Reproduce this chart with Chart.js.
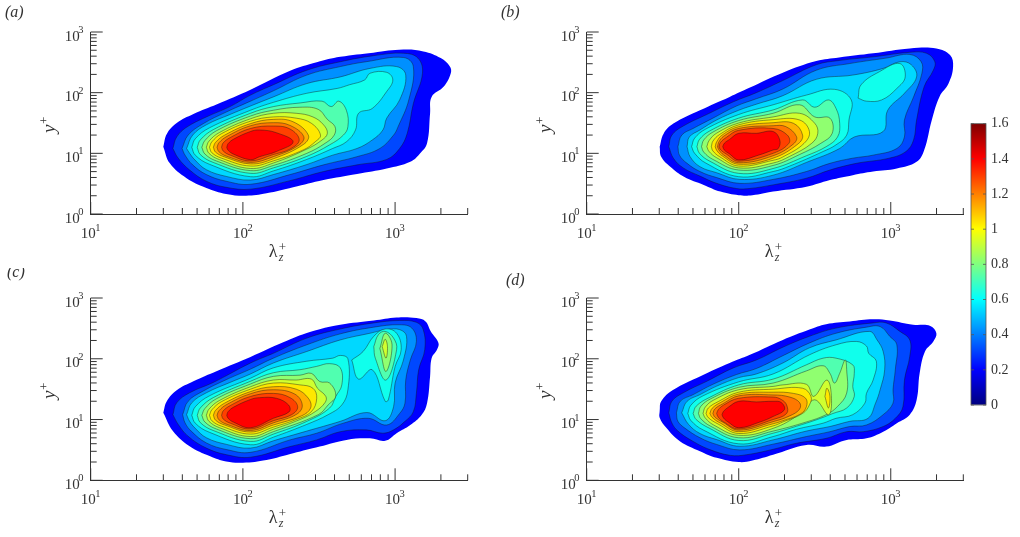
<!DOCTYPE html>
<html>
<head>
<meta charset="utf-8">
<title>Premultiplied spectra</title>
<script src="https://cdn.jsdelivr.net/npm/chart.js@4"></script>
<style>
  html, body { margin: 0; padding: 0; background: #fff; }
  canvas { position: absolute; }
</style>
</head>
<body>
<canvas id="panelA" style="left:0;top:0" width="500" height="268"></canvas>
<canvas id="panelB" style="left:500px;top:0" width="465" height="268"></canvas>
<canvas id="panelC" style="left:0;top:268px" width="500" height="268"></canvas>
<canvas id="panelD" style="left:500px;top:268px" width="465" height="268"></canvas>
<canvas id="colorbar" style="left:965px;top:110px" width="55" height="310"></canvas>
<script>
// axis ticks
const xMajorTicks = [10, 100, 1000];
const xMinorTicks = [20, 30, 40, 50, 60, 70, 80, 90, 200, 300, 400, 500, 600, 700, 800, 900, 2000, 3000];
const yMajorTicks = [1, 10, 100, 1000];
const yMinorTicks = [2, 3, 4, 5, 6, 7, 8, 9, 20, 30, 40, 50, 60, 70, 80, 90, 200, 300, 400, 500, 600, 700, 800, 900];
const colorbarTicks = [0, 0.2, 0.4, 0.6, 0.8, 1, 1.2, 1.4, 1.6];
const colorbarRange = [0, 1.6];

// contour levels and their fill colours
const levels = [0.2, 0.3, 0.4, 0.5, 0.6, 0.7, 0.8, 0.9, 1.0, 1.1, 1.2, 1.3, 1.4];
const levelColors = ['#0000ff', '#0048ff', '#0090ff', '#00d8ff', '#10ffec', '#50ffb0', '#90ff70', '#d0ff30', '#ffe800', '#ffb000', '#ff7800', '#ff4000', '#ff0000'];

// contour outlines, points are [log10 lambda, log10 y]
// panel a
const a02 = [[1.477,1.11],[1.50,1.32],[1.565,1.50],[1.675,1.65],[1.83,1.81],[2.05,2.05],[2.31,2.36],[2.485,2.50],[2.64,2.59],[2.857,2.66],[3.055,2.71],[3.186,2.68],[3.30,2.57],[3.36,2.43],[3.366,2.32],[3.32,2.10],[3.24,1.93],[3.23,1.66],[3.21,1.165],[3.165,1.0],[3.10,0.86],[2.945,0.75],[2.75,0.66],[2.53,0.56],[2.33,0.44],[2.155,0.34],[2.02,0.30],[1.89,0.33],[1.76,0.43],[1.63,0.59],[1.52,0.835]];
const a03 = [[1.54,1.08],[1.565,1.27],[1.63,1.43],[1.76,1.60],[1.915,1.77],[2.05,1.96],[2.20,2.13],[2.42,2.37],[2.64,2.51],[2.86,2.61],[3.055,2.65],[3.15,2.57],[3.18,2.32],[3.12,1.82],[3.08,1.33],[3.03,1.08],[2.945,0.90],[2.75,0.81],[2.53,0.70],[2.31,0.55],[2.05,0.41],[1.89,0.44],[1.76,0.54],[1.65,0.725],[1.575,0.92]];
const a04 = [[1.60,1.08],[1.64,1.30],[1.74,1.49],[1.89,1.68],[2.05,1.86],[2.20,2.03],[2.42,2.29],[2.64,2.43],[2.81,2.51],[3.055,2.58],[3.12,2.43],[3.09,1.88],[3.02,1.44],[2.99,1.30],[2.90,1.08],[2.75,0.945],[2.53,0.81],[2.31,0.65],[2.05,0.49],[1.89,0.54],[1.76,0.65],[1.67,0.81],[1.62,0.97]];
const a05 = [[1.63,1.08],[1.67,1.30],[1.76,1.47],[1.915,1.64],[2.05,1.78],[2.20,1.93],[2.42,2.15],[2.64,2.26],[2.835,2.40],[3.01,2.43],[3.07,2.29],[3.03,1.88],[2.945,1.58],[2.92,1.385],[2.85,1.22],[2.75,1.08],[2.59,0.97],[2.42,0.815],[2.20,0.65],[2.05,0.56],[1.89,0.62],[1.76,0.73],[1.685,0.89],[1.65,1.0]];
const a06 = [[1.664,1.10],[1.687,1.24],[1.78,1.42],[2.05,1.71],[2.20,1.84],[2.42,1.99],[2.62,2.07],[2.70,2.13],[2.80,2.21],[2.835,2.32],[2.945,2.335],[2.985,2.21],[2.945,2.02],[2.85,1.74],[2.76,1.66],[2.74,1.385],[2.68,1.19],[2.59,1.08],[2.42,0.90],[2.20,0.71],[2.05,0.615],[1.78,0.82],[1.687,0.97]];
const a07 = [[1.70,1.10],[1.72,1.22],[1.805,1.39],[2.05,1.66],[2.20,1.77],[2.375,1.83],[2.52,1.86],[2.58,1.77],[2.63,1.86],[2.68,1.71],[2.69,1.44],[2.66,1.30],[2.57,1.14],[2.42,0.95],[2.20,0.76],[2.05,0.67],[1.805,0.85],[1.72,0.98]];
const a08 = [[1.73,1.10],[1.75,1.21],[1.825,1.37],[2.05,1.615],[2.20,1.71],[2.375,1.76],[2.495,1.725],[2.555,1.56],[2.605,1.44],[2.60,1.30],[2.54,1.165],[2.42,1.0],[2.20,0.80],[2.05,0.715],[1.825,0.875],[1.75,0.99]];
const a09 = [[1.76,1.10],[1.777,1.20],[1.847,1.345],[2.05,1.57],[2.20,1.66],[2.35,1.66],[2.46,1.60],[2.53,1.47],[2.555,1.33],[2.52,1.22],[2.42,1.07],[2.20,0.84],[2.05,0.75],[1.847,0.895],[1.777,1.0]];
const a10 = [[1.78,1.10],[1.796,1.19],[1.86,1.325],[2.05,1.53],[2.20,1.60],[2.35,1.58],[2.45,1.495],[2.51,1.30],[2.475,1.19],[2.40,1.06],[2.20,0.875],[2.05,0.79],[1.86,0.92],[1.796,1.01]];
const a11 = [[1.806,1.10],[1.82,1.18],[1.88,1.30],[2.05,1.49],[2.20,1.56],[2.33,1.52],[2.43,1.30],[2.40,1.15],[2.20,0.91],[2.05,0.825],[1.88,0.94],[1.82,1.02]];
const a12 = [[1.83,1.10],[1.843,1.175],[1.896,1.28],[2.05,1.455],[2.20,1.505],[2.31,1.46],[2.40,1.275],[2.365,1.13],[2.20,0.945],[2.05,0.85],[1.896,0.95],[1.843,1.025]];
const a13 = [[1.86,1.10],[1.87,1.17],[1.917,1.26],[2.05,1.41],[2.20,1.45],[2.31,1.40],[2.37,1.22],[2.31,1.07],[2.20,0.98],[2.05,0.875],[1.917,0.97],[1.87,1.04]];
const a14 = [[1.894,1.10],[1.903,1.16],[1.94,1.235],[2.05,1.36],[2.11,1.385],[2.22,1.34],[2.33,1.19],[2.22,1.03],[2.11,0.945],[2.05,0.895],[1.94,0.985],[1.903,1.05]];

// panel b
const b02 = [[1.48,1.11],[1.505,1.32],[1.57,1.49],[1.745,1.71],[1.94,1.93],[2.07,2.08],[2.29,2.33],[2.51,2.52],[2.66,2.58],[2.884,2.65],[3.125,2.73],[3.30,2.73],[3.39,2.62],[3.41,2.43],[3.38,2.15],[3.32,1.93],[3.27,1.55],[3.22,1.055],[3.17,0.86],[3.04,0.75],[2.884,0.70],[2.75,0.64],[2.60,0.56],[2.445,0.45],[2.226,0.37],[2.09,0.31],[2.0,0.31],[1.88,0.37],[1.77,0.48],[1.64,0.615],[1.55,0.78],[1.49,0.945]];
const b03 = [[1.54,1.11],[1.56,1.30],[1.635,1.45],[1.79,1.64],[1.965,1.85],[2.116,2.0],[2.29,2.20],[2.51,2.46],[2.66,2.53],[2.884,2.59],[3.125,2.665],[3.235,2.65],[3.29,2.51],[3.28,2.37],[3.22,2.10],[3.17,1.55],[3.15,1.22],[3.10,1.03],[2.99,0.92],[2.774,0.835],[2.60,0.725],[2.445,0.59],[2.226,0.48],[2.07,0.42],[1.985,0.42],[1.855,0.505],[1.745,0.625],[1.635,0.76],[1.57,0.92]];
const b04 = [[1.60,1.11],[1.625,1.30],[1.70,1.41],[1.83,1.58],[1.985,1.78],[2.116,1.90],[2.29,2.06],[2.51,2.37],[2.73,2.48],[2.97,2.57],[3.125,2.63],[3.20,2.51],[3.205,2.32],[3.15,1.93],[3.09,1.55],[3.09,1.27],[3.04,1.08],[2.884,0.97],[2.75,0.92],[2.60,0.835],[2.445,0.70],[2.226,0.57],[2.007,0.505],[1.855,0.60],[1.745,0.70],[1.66,0.835],[1.61,0.97]];
const b05 = [[1.66,1.11],[1.675,1.27],[1.745,1.385],[1.855,1.55],[2.0,1.71],[2.116,1.81],[2.29,1.95],[2.51,2.22],[2.75,2.29],[2.95,2.40],[3.06,2.51],[3.135,2.46],[3.17,2.26],[3.09,1.99],[2.98,1.71],[2.95,1.36],[2.76,1.27],[2.664,1.08],[2.445,0.85],[2.226,0.64],[2.007,0.57],[1.855,0.68],[1.745,0.78],[1.68,0.945]];
const b06 = [[1.69,1.11],[1.71,1.25],[1.783,1.40],[2.0,1.64],[2.226,1.80],[2.445,1.96],[2.63,2.055],[2.74,1.88],[2.725,1.55],[2.71,1.30],[2.64,1.14],[2.555,1.03],[2.335,0.79],[2.226,0.70],[2.0,0.615],[1.783,0.84],[1.71,1.0]];
const b06Lobe = [[2.785,1.91],[2.805,2.13],[2.925,2.345],[3.06,2.48],[3.095,2.26],[3.04,2.07],[2.94,1.88],[2.84,1.86]];
const b07 = [[1.725,1.11],[1.742,1.23],[1.81,1.37],[2.0,1.58],[2.226,1.715],[2.42,1.88],[2.50,1.76],[2.59,1.88],[2.64,1.74],[2.664,1.495],[2.65,1.27],[2.575,1.11],[2.445,0.96],[2.226,0.75],[2.0,0.67],[1.81,0.87],[1.742,1.0]];
const b08 = [[1.755,1.11],[1.77,1.22],[1.83,1.35],[2.0,1.54],[2.226,1.66],[2.40,1.80],[2.50,1.60],[2.60,1.58],[2.615,1.33],[2.54,1.165],[2.40,0.98],[2.226,0.80],[2.0,0.725],[1.83,0.90],[1.77,1.02]];
const b09 = [[1.79,1.11],[1.805,1.21],[1.853,1.33],[2.0,1.50],[2.226,1.60],[2.40,1.66],[2.50,1.495],[2.52,1.33],[2.48,1.165],[2.335,0.95],[2.226,0.84],[2.0,0.76],[1.853,0.93],[1.805,1.03]];
const b10 = [[1.82,1.11],[1.83,1.20],[1.874,1.31],[2.0,1.47],[2.226,1.555],[2.40,1.55],[2.465,1.36],[2.43,1.165],[2.29,0.94],[2.226,0.885],[2.0,0.79],[1.874,0.945],[1.83,1.04]];
const b11 = [[1.845,1.11],[1.855,1.19],[1.89,1.30],[2.0,1.44],[2.226,1.505],[2.36,1.495],[2.42,1.30],[2.39,1.155],[2.226,0.92],[2.0,0.82],[1.89,0.96],[1.855,1.05]];
const b12 = [[1.86,1.11],[1.87,1.19],[1.90,1.28],[2.0,1.41],[2.226,1.455],[2.31,1.44],[2.38,1.275],[2.36,1.155],[2.226,0.96],[2.0,0.845],[1.90,0.975],[1.87,1.055]];
const b13 = [[1.87,1.11],[1.88,1.18],[1.92,1.265],[2.0,1.38],[2.226,1.41],[2.32,1.30],[2.33,1.165],[2.226,1.0],[2.0,0.87],[1.92,0.985],[1.88,1.06]];
const b14 = [[1.895,1.11],[1.905,1.165],[1.94,1.23],[2.0,1.33],[2.116,1.33],[2.226,1.36],[2.27,1.22],[2.26,1.08],[2.226,1.055],[2.13,0.97],[2.0,0.89],[1.94,0.99],[1.905,1.055]];

// panel c
const c02 = [[1.477,1.11],[1.50,1.30],[1.565,1.48],[1.675,1.63],[1.83,1.80],[2.05,2.03],[2.265,2.27],[2.44,2.44],[2.64,2.56],[2.86,2.63],[3.01,2.68],[3.14,2.67],[3.20,2.615],[3.235,2.45],[3.285,2.26],[3.275,2.15],[3.24,2.01],[3.23,1.71],[3.21,1.27],[3.175,1.08],[3.10,0.91],[3.01,0.775],[2.935,0.65],[2.835,0.69],[2.68,0.665],[2.505,0.555],[2.33,0.445],[2.155,0.335],[2.0,0.29],[1.89,0.31],[1.785,0.395],[1.65,0.56],[1.54,0.81]];
const c03 = [[1.54,1.08],[1.565,1.275],[1.65,1.44],[1.805,1.61],[2.05,1.93],[2.20,2.09],[2.42,2.34],[2.64,2.49],[2.86,2.59],[3.03,2.63],[3.14,2.60],[3.185,2.48],[3.195,2.15],[3.155,1.82],[3.14,1.43],[3.12,1.13],[3.065,0.97],[2.99,0.83],[2.92,0.775],[2.81,0.83],[2.64,0.80],[2.485,0.665],[2.31,0.555],[2.05,0.38],[1.894,0.42],[1.76,0.53],[1.64,0.725],[1.575,0.92]];
const c04 = [[1.604,1.08],[1.64,1.30],[1.74,1.47],[1.894,1.66],[2.05,1.83],[2.20,2.01],[2.42,2.23],[2.64,2.41],[2.86,2.52],[3.03,2.56],[3.11,2.505],[3.14,2.285],[3.10,1.98],[3.07,1.65],[3.065,1.27],[3.03,1.10],[2.945,0.91],[2.825,1.02],[2.66,0.94],[2.485,0.775],[2.31,0.665],[2.05,0.46],[1.894,0.505],[1.76,0.615],[1.66,0.81],[1.62,0.945]];
const c05 = [[1.63,1.08],[1.664,1.275],[1.76,1.44],[1.915,1.61],[2.05,1.75],[2.20,1.93],[2.42,2.12],[2.64,2.31],[2.835,2.42],[2.945,2.48],[3.03,2.48],[3.075,2.37],[3.055,1.98],[3.0,1.60],[2.99,1.21],[2.935,0.98],[2.815,1.115],[2.64,0.97],[2.42,0.81],[2.20,0.65],[2.05,0.53],[1.894,0.59],[1.76,0.70],[1.685,0.86],[1.65,0.97]];
const c06 = [[1.664,1.07],[1.687,1.21],[1.78,1.39],[2.05,1.68],[2.20,1.85],[2.42,1.96],[2.59,2.01],[2.64,2.055],[2.69,2.0],[2.69,1.49],[2.65,1.24],[2.56,1.08],[2.42,0.92],[2.20,0.71],[2.05,0.585],[1.78,0.79],[1.687,0.94]];
const c06Lobe = [[2.715,1.98],[2.79,2.12],[2.86,2.37],[2.935,2.49],[3.01,2.42],[3.04,2.15],[3.0,1.87],[2.955,1.32],[2.935,1.30],[2.85,1.82],[2.76,1.665]];
const c07 = [[1.70,1.07],[1.72,1.19],[1.805,1.36],[2.05,1.63],[2.20,1.77],[2.375,1.82],[2.485,1.875],[2.57,1.92],[2.64,1.85],[2.65,1.57],[2.61,1.38],[2.57,1.19],[2.42,0.97],[2.20,0.76],[2.05,0.64],[1.805,0.82],[1.72,0.95]];
const c07Lobe = [[2.86,2.20],[2.89,2.395],[2.935,2.45],[2.99,2.34],[3.01,2.15],[2.94,1.65],[2.87,2.01]];
const c08 = [[1.73,1.07],[1.75,1.18],[1.825,1.34],[2.05,1.585],[2.20,1.71],[2.375,1.73],[2.45,1.76],[2.505,1.625],[2.57,1.60],[2.61,1.39],[2.56,1.24],[2.495,1.08],[2.20,0.80],[2.05,0.685],[1.825,0.845],[1.75,0.96]];
const c08Lobe = [[2.90,2.17],[2.935,2.42],[2.98,2.23],[2.94,1.79]];
const c09 = [[1.76,1.07],[1.777,1.17],[1.847,1.315],[2.05,1.54],[2.20,1.65],[2.35,1.65],[2.45,1.665],[2.49,1.515],[2.545,1.38],[2.54,1.28],[2.475,1.13],[2.375,1.0],[2.20,0.84],[2.05,0.72],[1.847,0.865],[1.777,0.97]];
const c09Lobe = [[2.915,2.20],[2.935,2.32],[2.95,2.20],[2.94,2.01]];
const c10 = [[1.78,1.07],[1.796,1.16],[1.86,1.295],[2.05,1.50],[2.20,1.60],[2.375,1.57],[2.46,1.515],[2.485,1.35],[2.45,1.13],[2.35,1.0],[2.20,0.875],[2.05,0.76],[1.86,0.89],[1.796,0.98]];
const c11 = [[1.806,1.07],[1.82,1.15],[1.88,1.27],[2.05,1.46],[2.20,1.54],[2.35,1.50],[2.43,1.35],[2.445,1.19],[2.385,1.06],[2.20,0.91],[2.05,0.795],[1.88,0.91],[1.82,0.99]];
const c12 = [[1.83,1.07],[1.843,1.145],[1.896,1.25],[2.05,1.425],[2.20,1.49],[2.34,1.42],[2.39,1.24],[2.355,1.09],[2.20,0.945],[2.05,0.82],[1.896,0.92],[1.843,0.995]];
const c13 = [[1.86,1.07],[1.87,1.14],[1.917,1.23],[2.05,1.38],[2.20,1.43],[2.31,1.36],[2.36,1.21],[2.32,1.08],[2.20,0.98],[2.05,0.845],[1.917,0.94],[1.87,1.01]];
const c14 = [[1.894,1.07],[1.903,1.13],[1.94,1.205],[2.05,1.33],[2.11,1.36],[2.22,1.35],[2.30,1.24],[2.305,1.13],[2.20,1.02],[2.05,0.865],[1.94,0.955],[1.903,1.02]];

// panel d
const d02 = [[1.48,1.14],[1.49,1.30],[1.57,1.49],[1.745,1.71],[1.94,1.93],[2.07,2.06],[2.29,2.31],[2.465,2.48],[2.575,2.57],[2.73,2.615],[2.884,2.65],[2.993,2.63],[3.147,2.56],[3.26,2.54],[3.30,2.42],[3.28,2.285],[3.225,2.12],[3.19,1.76],[3.17,1.32],[3.125,1.08],[3.04,0.94],[2.95,0.80],[2.84,0.69],[2.71,0.665],[2.575,0.555],[2.445,0.58],[2.226,0.42],[2.09,0.325],[2.0,0.30],[1.855,0.37],[1.745,0.48],[1.615,0.64],[1.525,0.86],[1.48,1.03]];
const d03 = [[1.54,1.11],[1.56,1.30],[1.635,1.44],[1.79,1.63],[1.965,1.85],[2.116,1.98],[2.29,2.19],[2.465,2.37],[2.64,2.505],[2.884,2.59],[2.97,2.59],[3.06,2.45],[3.125,2.31],[3.125,2.04],[3.09,1.65],[3.08,1.21],[3.03,1.02],[2.95,0.885],[2.82,0.80],[2.71,0.80],[2.575,0.69],[2.38,0.61],[2.226,0.51],[2.05,0.42],[1.945,0.41],[1.81,0.505],[1.70,0.64],[1.60,0.81],[1.56,0.945]];
const d04 = [[1.59,1.11],[1.615,1.30],[1.70,1.41],[1.83,1.58],[1.985,1.74],[2.116,1.84],[2.29,2.05],[2.465,2.26],[2.64,2.42],[2.84,2.52],[2.93,2.53],[2.993,2.37],[3.04,2.23],[3.03,1.82],[3.015,1.49],[3.015,1.27],[2.95,1.08],[2.84,0.91],[2.73,0.885],[2.60,0.80],[2.445,0.72],[2.226,0.595],[2.007,0.50],[1.855,0.59],[1.745,0.70],[1.645,0.86],[1.60,0.97]];
const d05 = [[1.625,1.11],[1.66,1.30],[1.745,1.41],[1.855,1.55],[2.0,1.69],[2.116,1.75],[2.29,1.93],[2.465,2.18],[2.64,2.31],[2.86,2.45],[2.91,2.31],[2.95,2.12],[2.96,1.82],[2.93,1.49],[2.90,1.27],[2.85,1.02],[2.73,0.97],[2.60,0.885],[2.445,0.81],[2.226,0.665],[2.007,0.56],[1.855,0.67],[1.745,0.77],[1.67,0.92]];
const d06 = [[1.665,1.10],[1.685,1.235],[1.765,1.39],[2.0,1.62],[2.226,1.75],[2.465,2.065],[2.64,2.23],[2.774,2.285],[2.84,2.21],[2.855,2.09],[2.905,1.96],[2.884,1.65],[2.84,1.43],[2.83,1.27],[2.75,1.08],[2.64,1.02],[2.555,0.94],[2.38,0.84],[2.226,0.72],[2.0,0.60],[1.765,0.83],[1.685,0.985]];
const d07 = [[1.70,1.10],[1.72,1.22],[1.805,1.36],[2.0,1.57],[2.226,1.665],[2.445,1.90],[2.555,2.01],[2.64,2.01],[2.75,1.90],[2.76,1.76],[2.75,1.545],[2.76,1.38],[2.71,1.19],[2.62,1.10],[2.51,0.995],[2.38,0.89],[2.226,0.775],[2.0,0.655],[1.805,0.86],[1.72,1.0]];
const d08 = [[1.735,1.10],[1.75,1.215],[1.815,1.34],[2.0,1.53],[2.226,1.60],[2.445,1.80],[2.555,1.885],[2.60,1.76],[2.63,1.60],[2.664,1.76],[2.70,1.98],[2.71,1.82],[2.71,1.435],[2.65,1.215],[2.575,1.08],[2.445,0.96],[2.226,0.81],[2.0,0.70],[1.815,0.89],[1.75,1.015]];
const d09 = [[1.765,1.10],[1.78,1.205],[1.835,1.32],[2.0,1.49],[2.226,1.545],[2.29,1.57],[2.445,1.58],[2.493,1.38],[2.58,1.65],[2.61,1.35],[2.59,1.08],[2.50,1.325],[2.40,1.09],[2.226,0.855],[2.0,0.74],[1.835,0.91],[1.78,1.025]];
const d10 = [[1.785,1.10],[1.80,1.19],[1.865,1.295],[2.0,1.45],[2.226,1.50],[2.42,1.515],[2.475,1.38],[2.465,1.24],[2.42,1.10],[2.29,0.96],[2.226,0.895],[2.0,0.77],[1.865,0.925],[1.80,1.03]];
const d10Lobe = [[2.567,1.38],[2.58,1.515],[2.60,1.38],[2.59,1.19]];
const d11 = [[1.81,1.10],[1.825,1.185],[1.88,1.28],[2.0,1.42],[2.226,1.45],[2.36,1.43],[2.44,1.35],[2.445,1.21],[2.405,1.09],[2.29,0.98],[2.226,0.93],[2.0,0.80],[1.88,0.94],[1.825,1.035]];
const d12 = [[1.83,1.10],[1.843,1.175],[1.896,1.26],[2.0,1.39],[2.226,1.405],[2.335,1.37],[2.40,1.28],[2.40,1.17],[2.335,1.06],[2.226,0.965],[2.0,0.825],[1.896,0.955],[1.843,1.04]];
const d13 = [[1.855,1.10],[1.865,1.16],[1.90,1.237],[2.0,1.35],[2.226,1.37],[2.28,1.33],[2.315,1.24],[2.315,1.10],[2.226,1.0],[2.0,0.845],[1.90,0.963],[1.865,1.04]];
const d14 = [[1.89,1.08],[1.90,1.135],[1.93,1.20],[2.0,1.30],[2.116,1.29],[2.226,1.30],[2.28,1.28],[2.30,1.16],[2.226,1.05],[2.14,0.96],[2.0,0.865],[1.93,0.96],[1.90,1.025]];

const panelAContours = [[0,a02],[1,a03],[2,a04],[3,a05],[4,a06],[5,a07],[6,a08],[7,a09],[8,a10],[9,a11],[10,a12],[11,a13],[12,a14]];
const panelBContours = [[0,b02],[1,b03],[2,b04],[3,b05],[4,b06],[4,b06Lobe],[5,b07],[6,b08],[7,b09],[8,b10],[9,b11],[10,b12],[11,b13],[12,b14]];
const panelCContours = [[0,c02],[1,c03],[2,c04],[3,c05],[4,c06],[4,c06Lobe],[5,c07],[5,c07Lobe],[6,c08],[6,c08Lobe],[7,c09],[7,c09Lobe],[8,c10],[9,c11],[10,c12],[11,c13],[12,c14]];
const panelDContours = [[0,d02],[1,d03],[2,d04],[3,d05],[4,d06],[5,d07],[6,d08],[7,d09],[8,d10],[8,d10Lobe],[9,d11],[10,d12],[11,d13],[12,d14]];

const serif = '"Liberation Serif", "Times New Roman", serif';
const inkColor = '#333333';

// superscript tick labels, tick marks and titles, drawn from the chart's scales
const decorPlugin = {
  id: 'decor',
  afterDraw(chart, args, opts) {
    const ctx = chart.ctx;
    const area = chart.chartArea;
    const xScale = chart.scales.x;
    const yScale = chart.scales.y;
    ctx.save();
    ctx.strokeStyle = inkColor;
    ctx.fillStyle = inkColor;
    ctx.lineWidth = 1;
    ctx.textBaseline = 'alphabetic';
    ctx.textAlign = 'left';

    ctx.beginPath();
    xMajorTicks.concat(xMinorTicks).forEach(v => {
      const px = xScale.getPixelForValue(v);
      ctx.moveTo(px, area.bottom);
      ctx.lineTo(px, area.bottom - (xMajorTicks.includes(v) ? 12 : 6));
    });
    yMajorTicks.concat(yMinorTicks).forEach(v => {
      const py = yScale.getPixelForValue(v);
      ctx.moveTo(area.left, py);
      ctx.lineTo(area.left + (yMajorTicks.includes(v) ? 12 : 6), py);
    });
    ctx.stroke();

    xMajorTicks.forEach(v => {
      const px = xScale.getPixelForValue(v);
      ctx.font = '15px ' + serif;
      ctx.fillText('10', px - 10, area.bottom + 24);
      ctx.font = '10.5px ' + serif;
      ctx.fillText(String(Math.log10(v)), px + 4.5, area.bottom + 17);
    });
    yMajorTicks.forEach(v => {
      const py = yScale.getPixelForValue(v);
      ctx.font = '15px ' + serif;
      ctx.fillText('10', area.left - 26, py + 8.5);
      ctx.font = '10.5px ' + serif;
      ctx.fillText(String(Math.log10(v)), area.left - 12.5, py + 1);
    });

    // x title
    const tx = area.left + 178;
    const ty = area.bottom + 43;
    ctx.font = '18px ' + serif;
    ctx.fillText('λ', tx, ty);
    ctx.font = 'italic 12px ' + serif;
    ctx.fillText('z', tx + 10, ty + 4);
    ctx.font = '13px ' + serif;
    ctx.fillText('+', tx + 10, ty - 6);

    // y title
    ctx.save();
    ctx.translate(area.left - 36, area.top + 101);
    ctx.rotate(-Math.PI / 2);
    ctx.font = 'italic 19px ' + serif;
    ctx.fillText('y', 0, 0);
    ctx.font = '13px ' + serif;
    ctx.fillText('+', 9, -7);
    ctx.restore();

    // panel letter
    ctx.font = 'italic 16px ' + serif;
    ctx.fillText(opts.letter, opts.letterX, opts.letterY);
    ctx.restore();
  }
};

function makePanel(id, contours, padding, letter, letterX, letterY) {
  const datasets = contours.map(([levelIndex, outline]) => ({
    data: outline.concat([outline[0]]).map(p => ({ x: 10 ** p[0], y: 10 ** p[1] })),
    showLine: true,
    fill: 'shape',
    order: -levelIndex,
    tension: 0.4,
    pointRadius: 0,
    backgroundColor: levelColors[levelIndex],
    borderColor: levelIndex === 0 ? levelColors[0] : 'rgba(20,20,20,0.7)',
    borderWidth: levelIndex === 0 ? 0 : 0.6
  }));
  const axisBase = {
    type: 'logarithmic',
    ticks: { display: false },
    grid: { drawOnChartArea: false, drawTicks: false },
    border: { display: true, color: inkColor, width: 1 },
    afterFit(scale) {
      if (scale.isHorizontal()) scale.height = 0; else scale.width = 0;
    }
  };
  return new Chart(document.getElementById(id), {
    type: 'scatter',
    data: { datasets },
    options: {
      responsive: false,
      animation: false,
      events: [],
      layout: { padding },
      scales: {
        x: { ...axisBase, position: 'bottom', min: 10, max: 3000 },
        y: { ...axisBase, position: 'left', min: 1, max: 1000 }
      },
      plugins: {
        legend: { display: false },
        tooltip: { enabled: false },
        decor: { letter, letterX, letterY }
      }
    },
    plugins: [decorPlugin]
  });
}

makePanel('panelA', panelAContours, { left: 90.7, right: 32.3, top: 32, bottom: 54 }, '(a)', 5, 17);
makePanel('panelB', panelBContours, { left: 86.7, right: 1.7, top: 32, bottom: 54 }, '(b)', 1, 17);
makePanel('panelC', panelCContours, { left: 90.7, right: 32.3, top: 30, bottom: 55.7 }, '(c)', 7, 9);
makePanel('panelD', panelDContours, { left: 86.7, right: 1.7, top: 30, bottom: 55.7 }, '(d)', 6, 16.7);

// colour bar
new Chart(document.getElementById('colorbar'), {
  type: 'bar',
  data: {
    labels: [''],
    datasets: [{
      data: [colorbarRange],
      barPercentage: 1,
      categoryPercentage: 1,
      borderWidth: 0,
      backgroundColor(context) {
        const area = context.chart.chartArea;
        if (!area) return '#0000ff';
        const g = context.chart.ctx.createLinearGradient(0, area.bottom, 0, area.top);
        [[0, '#00007f'], [0.125, '#0000ff'], [0.375, '#00ffff'], [0.625, '#ffff00'], [0.875, '#ff0000'], [1, '#7f0000']]
          .forEach(s => g.addColorStop(s[0], s[1]));
        return g;
      }
    }]
  },
  options: {
    responsive: false,
    animation: false,
    events: [],
    layout: { padding: { left: 6, right: 0, top: 13.7, bottom: 15 } },
    scales: {
      x: { display: false },
      y: {
        position: 'right',
        min: colorbarRange[0],
        max: colorbarRange[1],
        afterBuildTicks(scale) { scale.ticks = colorbarTicks.map(v => ({ value: v })); },
        afterFit(scale) { scale.width = 34; },
        grid: { drawOnChartArea: false, drawTicks: false },
        border: { display: false },
        ticks: {
          padding: 5,
          color: inkColor,
          font: { family: serif, size: 14 },
          autoSkip: false,
          callback: v => String(v)
        }
      }
    },
    plugins: { legend: { display: false }, tooltip: { enabled: false } }
  },
  plugins: [{
    id: 'barTicks',
    afterDraw(chart) {
      const ctx = chart.ctx;
      const area = chart.chartArea;
      ctx.save();
      ctx.strokeStyle = '#555555';
      ctx.lineWidth = 0.8;
      ctx.strokeRect(area.left, area.top, area.right - area.left, area.bottom - area.top);
      ctx.beginPath();
      colorbarTicks.forEach(v => {
        const py = chart.scales.y.getPixelForValue(v);
        ctx.moveTo(area.right, py);
        ctx.lineTo(area.right - 3, py);
        ctx.moveTo(area.left, py);
        ctx.lineTo(area.left + 3, py);
      });
      ctx.stroke();
      ctx.restore();
    }
  }]
});
</script>
</body>
</html>
